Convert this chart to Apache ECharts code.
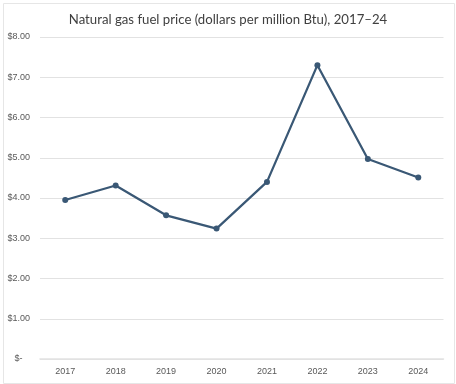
<!DOCTYPE html>
<html>
<head>
<meta charset="utf-8">
<script src="https://cdn.jsdelivr.net/npm/echarts@6/dist/echarts.min.js"></script>
<style>html,body{margin:0;padding:0;background:#fff}#c{width:456px;height:384px}</style>
</head>
<body>
<div id="c"></div>
<script>
const titleText = 'Natural gas fuel price (dollars per million Btu), 2017–24';
const years = ['2017','2018','2019','2020','2021','2022','2023','2024'];
const prices = [3.95, 4.31, 3.57, 3.24, 4.40, 7.30, 4.97, 4.51];
const yMin = 0, yMax = 8, yStep = 1;

const chart = echarts.init(document.getElementById('c'), null, {renderer:'canvas'});
chart.setOption({
  animation: false,
  backgroundColor: '#ffffff',
  title: {
    text: titleText, left: 'center', top: 8,
    textStyle: {fontFamily: 'Lato', fontSize: 13.2, fontWeight: 'normal', color: '#404040'}
  },
  graphic: [{
    type: 'rect', left: 1, top: 1, silent: true,
    shape: {width: 451, height: 380},
    style: {fill: 'none', stroke: '#e6e6e6', lineWidth: 1}
  }],
  grid: {left: 40, right: 12.5, top: 37, bottom: 25, containLabel: false},
  xAxis: {
    type: 'category', data: years, boundaryGap: true,
    axisLine: {show: true, lineStyle: {color: '#e2e2e2', width: 1.5}},
    axisTick: {show: false},
    axisLabel: {margin: 8, fontFamily: 'Liberation Sans', fontSize: 9, color: '#595959'}
  },
  yAxis: {
    type: 'value', min: yMin, max: yMax, interval: yStep,
    axisLine: {show: false}, axisTick: {show: false},
    splitLine: {lineStyle: {color: '#e2e2e2', width: 1}},
    axisLabel: {
      margin: 10, fontFamily: 'Liberation Sans', fontSize: 9, color: '#595959',
      formatter: v => v === 0 ? '$-   ' : '$' + v.toFixed(2)
    }
  },
  series: [{
    type: 'line', data: prices,
    symbol: 'circle', symbolSize: 6,
    lineStyle: {color: '#3a5875', width: 2.25},
    itemStyle: {color: '#3a5875'}
  }]
});
</script>
</body>
</html>
